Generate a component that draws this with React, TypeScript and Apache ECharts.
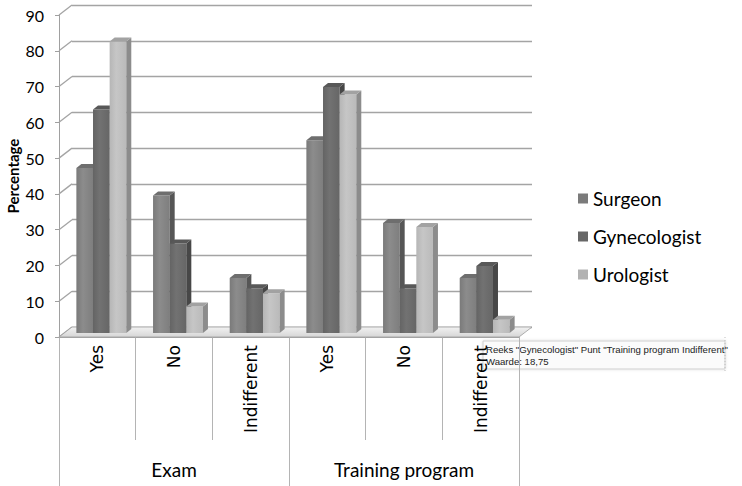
import React, { useEffect, useRef } from "react";
import * as echarts from "echarts";

const categories = ["Yes", "No", "Indifferent", "Yes", "No", "Indifferent"];
const groups = ["Exam", "Training program"];
const seriesNames = ["Surgeon", "Gynecologist", "Urologist"];
const surgeon = [46.15, 38.46, 15.38, 53.85, 30.77, 15.38];
const gynecologist = [62.5, 25, 12.5, 68.75, 12.5, 18.75];
const urologist = [81.48, 7.41, 11.11, 66.67, 29.63, 3.7];
const yTicks = [0, 10, 20, 30, 40, 50, 60, 70, 80, 90];
const tooltipLines = ['Reeks "Gynecologist" Punt "Training program Indifferent"', "Waarde: 18,75"];

const legendColors = ["#7b7b7b", "#676767", "#b2b2b2"];
const faceColors = [
  { front: ["#7a7a7a", "#8c8c8c", "#7e7e7e"], side: "#565656", top: "#6e6e6e" },
  { front: ["#646464", "#727272", "#666666"], side: "#474747", top: "#585858" },
  { front: ["#b6b6b6", "#c6c6c6", "#bababa"], side: "#8c8c8c", top: "#a2a2a2" },
];

const DEPTH_X = 13;
const DEPTH_Y = -10;

export default function App() {
  const ref = useRef<HTMLDivElement>(null);
  useEffect(() => {
    if (!ref.current) return;
    const chart = echarts.init(ref.current, null, { renderer: "svg" });

    const barSeries = [surgeon, gynecologist, urologist].map((vals, s) => ({
      name: seriesNames[s],
      type: "custom",
      xAxisIndex: 0,
      yAxisIndex: 0,
      itemStyle: { color: legendColors[s] },
      data: vals.map((v, i) => [i, v]),
      encode: { x: 0, y: 1 },
      z: 5,
      renderItem: (params: any, api: any) => {
        const idx = api.value(0);
        const val = api.value(1);
        const p0 = api.coord([idx, 0]);
        const p1 = api.coord([idx, val]);
        const band = api.size([1, 0])[0];
        const bw = band * 0.217;
        const x = p0[0] - 1.5 * bw + s * bw + 4;
        const base = p0[1] - 4;
        const top = p1[1] - 4;
        const sx = 5;
        const sy = -4;
        const c = faceColors[s];
        return {
          type: "group",
          children: [
            {
              type: "rect",
              shape: { x, y: top, width: bw, height: base - top },
              style: {
                fill: new echarts.graphic.LinearGradient(0, 0, 1, 0, [
                  { offset: 0, color: c.front[0] },
                  { offset: 0.4, color: c.front[1] },
                  { offset: 1, color: c.front[2] },
                ]),
              },
            },
            {
              type: "polygon",
              shape: {
                points: [
                  [x + bw, base],
                  [x + bw, top],
                  [x + bw + sx, top + sy],
                  [x + bw + sx, base + sy],
                ],
              },
              style: { fill: c.side },
            },
            {
              type: "polygon",
              shape: {
                points: [
                  [x, top],
                  [x + bw, top],
                  [x + bw + sx, top + sy],
                  [x + sx, top + sy],
                ],
              },
              style: { fill: c.top },
            },
          ],
        };
      },
    }));

    const option: any = {
      animation: false,
      grid: [
        { left: 59, right: 223, top: 15, bottom: 149, containLabel: false, outerBoundsMode: "none" },
        {
          left: 59 + DEPTH_X,
          right: 223 - DEPTH_X,
          top: 15 + DEPTH_Y,
          bottom: 149 - DEPTH_Y,
          containLabel: false,
          outerBoundsMode: "none",
        },
      ],
      legend: {
        data: seriesNames,
        orient: "vertical",
        left: 573,
        top: 184,
        itemWidth: 10,
        itemHeight: 10,
        itemGap: 19,
        icon: "rect",
        textStyle: { fontFamily: "Lato", fontSize: 19, color: "#000" },
      },
      xAxis: [
        {
          gridIndex: 0,
          type: "category",
          data: categories,
          position: "bottom",
          axisLine: { show: true, lineStyle: { color: "#a8a8a8", width: 1 } },
          axisTick: { show: true, length: 103, interval: 0, lineStyle: { color: "#b4b4b4" } },
          axisLabel: {
            rotate: 90,
            interval: 0,
            margin: 8,
            fontFamily: "DejaVu Sans",
            fontSize: 17,
            color: "#000",
          },
          splitLine: { show: false },
        },
        {
          gridIndex: 0,
          type: "category",
          data: groups,
          position: "bottom",
          axisLine: { show: false },
          axisTick: { show: true, length: 149, interval: 0, lineStyle: { color: "#b4b4b4" } },
          axisLabel: { margin: 123, fontFamily: "Lato", fontSize: 19, color: "#000", interval: 0 },
          splitLine: { show: false },
        },
        {
          gridIndex: 1,
          type: "category",
          data: categories,
          show: false,
        },
      ],
      yAxis: [
        {
          gridIndex: 0,
          type: "value",
          min: 0,
          max: 90,
          interval: 10,
          name: "Percentage",
          nameLocation: "middle",
          nameGap: 39,
          nameMoveOverlap: false,
          nameRotate: 90,
          nameTextStyle: { fontFamily: "Lato", fontWeight: "bold", fontSize: 15, color: "#000" },
          axisLine: { show: true, lineStyle: { color: "#a0a0a0" } },
          axisTick: { show: true, length: 4, lineStyle: { color: "#a0a0a0" } },
          axisLabel: { fontFamily: "Lato", fontSize: 16, color: "#000", margin: 15 },
          splitLine: { show: false },
        },
        {
          gridIndex: 1,
          type: "value",
          min: 0,
          max: 90,
          interval: 10,
          axisLine: { show: false },
          axisTick: { show: false },
          axisLabel: { show: false },
          splitLine: { show: true, lineStyle: { color: "#a4a4a4", width: 1.3 } },
        },
      ],
      series: [
        {
          name: "walls",
          type: "custom",
          xAxisIndex: 0,
          yAxisIndex: 0,
          silent: true,
          z: 1,
          data: yTicks.map((v) => [0, v]),
          encode: { x: 0, y: 1 },
          renderItem: (params: any, api: any) => {
            const p = api.coord([api.value(0), api.value(1)]);
            const band = api.size([1, 0])[0];
            const x0 = p[0] - band / 2;
            return {
              type: "line",
              shape: { x1: x0, y1: p[1], x2: x0 + DEPTH_X, y2: p[1] + DEPTH_Y },
              style: { stroke: "#a4a4a4", lineWidth: 1.3 },
            };
          },
        },
        {
          name: "floor",
          type: "custom",
          xAxisIndex: 0,
          yAxisIndex: 0,
          silent: true,
          z: 2,
          data: [[0, 0]],
          encode: { x: 0, y: 1 },
          renderItem: (params: any, api: any) => {
            const p = api.coord([0, 0]);
            const band = api.size([1, 0])[0];
            const x0 = p[0] - band / 2;
            const x1 = x0 + band * categories.length;
            const y = p[1];
            return {
              type: "group",
              children: [
                {
                  type: "polygon",
                  shape: {
                    points: [
                      [x0, y],
                      [x0 + DEPTH_X, y + DEPTH_Y],
                      [x1 + DEPTH_X, y + DEPTH_Y],
                      [x1, y],
                    ],
                  },
                  style: {
                    fill: new echarts.graphic.LinearGradient(0, 0, 0, 1, [
                      { offset: 0, color: "#f2f2f2" },
                      { offset: 1, color: "#d6d6d6" },
                    ]),
                    stroke: "#9c9c9c",
                    lineWidth: 0.8,
                  },
                },
              ],
            };
          },
        },
        ...barSeries,
      ],
      graphic: [
        {
          type: "group",
          z: 100,
          children: [
            {
              type: "rect",
              shape: { x: 483, y: 341, width: 242, height: 28 },
              style: {
                fill: "rgba(255,255,255,0.72)",
                stroke: "#cfcfcf",
                lineWidth: 1,
                shadowBlur: 3,
                shadowColor: "rgba(0,0,0,0.15)",
              },
            },
            {
              type: "line",
              shape: { x1: 725, y1: 337, x2: 725, y2: 373 },
              style: { stroke: "#bdbdbd", lineWidth: 1, lineDash: [1, 2] },
            },
            {
              type: "text",
              x: 486,
              y: 343,
              style: {
                text: tooltipLines.join("\n"),
                fontFamily: "Liberation Sans",
                fontSize: 9.6,
                lineHeight: 12,
                fill: "#222",
              },
            },
          ],
        },
      ],
    };
    chart.setOption(option);
    return () => chart.dispose();
  }, []);
  return (
    <div
      ref={ref}
      style={{ position: "absolute", left: 0, top: 0, width: 742, height: 486, background: "#fff" }}
    />
  );
}
